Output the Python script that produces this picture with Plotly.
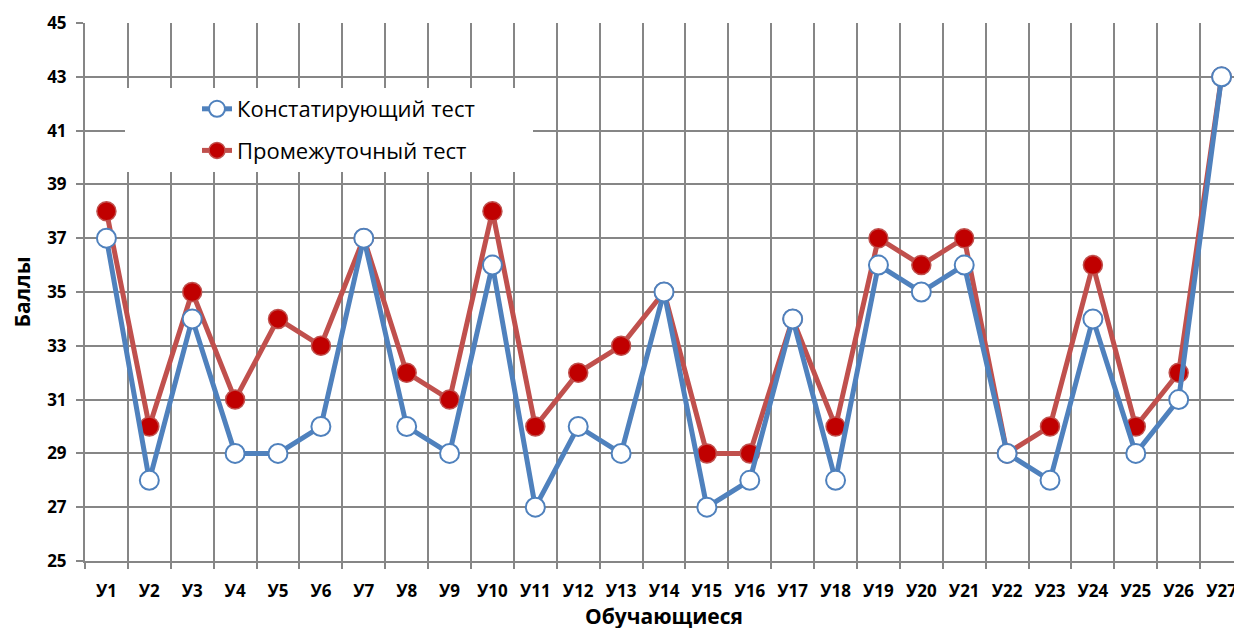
import plotly.graph_objects as go

students = ["У%d" % i for i in range(1, 28)]
konst = [37, 28, 34, 29, 29, 30, 37, 30, 29, 36, 27, 30, 29, 35, 27, 28, 34, 28, 36, 35, 36, 29, 28, 34, 29, 31, 43]
promezh = [38, 30, 35, 31, 34, 33, 37, 32, 31, 38, 30, 32, 33, 35, 29, 29, 34, 30, 37, 36, 37, 29, 30, 36, 30, 32, 43]
yticks = list(range(25, 46, 2))

FONT = "Open Sans"
GRID = "#868686"

# page has an 8px body margin; plot area in page: x 85..1243.5, y 23..561
L, T, PW, PH = 77, 15, 1158, 538
OFF = 8


def px(xp):
    return (xp - OFF - L) / PW


def py(yp):
    return (T + PH - (yp - OFF)) / PH


fig = go.Figure()
fig.add_trace(go.Scatter(
    x=students, y=promezh, mode="lines+markers", name="Промежуточный тест",
    legendgroup="b", legendrank=2,
    line=dict(color="#C0504D", width=5),
    marker=dict(size=19, color="#C00000", line=dict(color="#C0504D", width=1.5)),
))
fig.add_trace(go.Scatter(
    x=students, y=konst, mode="lines+markers", name="Констатирующий тест",
    legendgroup="a", legendrank=1,
    line=dict(color="#4F81BD", width=5),
    marker=dict(size=19, color="white", line=dict(color="#4F81BD", width=2)),
))

fig.add_shape(type="rect", xref="paper", yref="paper",
              x0=px(125), x1=px(533), y0=py(172), y1=py(88),
              fillcolor="white", line=dict(width=0), layer="above")

fig.update_layout(
    width=1242, height=628,
    margin=dict(l=L, r=1242 - L - PW, t=T, b=628 - T - PH, autoexpand=False),
    paper_bgcolor="white", plot_bgcolor="white",
    font=dict(family=FONT, color="black"),
    showlegend=True,
    legend=dict(
        x=px(197), y=py(88), xanchor="left", yanchor="top",
        bgcolor="rgba(0,0,0,0)", font=dict(size=22, family=FONT, color="black"),
        tracegroupgap=10, traceorder="grouped",
    ),
    xaxis=dict(
        type="category", range=[-0.5, 26.5], tickson="boundaries",
        automargin=False,
        showgrid=True, gridcolor=GRID, gridwidth=2,
        showline=True, linecolor=GRID, linewidth=2,
        ticks="outside", ticklen=6, tickcolor=GRID, tickwidth=2,
        ticklabelstandoff=14,
        tickfont=dict(size=17, family=FONT, color="black", weight="bold"),
        title=dict(text="<b>Обучающиеся</b>", font=dict(size=21, family=FONT), standoff=6),
    ),
    yaxis=dict(
        range=[25, 45], tickvals=yticks,
        automargin=False,
        showgrid=True, gridcolor=GRID, gridwidth=2,
        showline=True, linecolor=GRID, linewidth=2,
        ticks="outside", ticklen=7, tickcolor=GRID, tickwidth=2,
        ticklabelstandoff=6,
        tickfont=dict(size=17, family=FONT, color="black", weight="bold"),
        title=dict(text="<b>Баллы</b>", font=dict(size=21, family=FONT), standoff=20),
    ),
)

fig.write_html("out.html")
